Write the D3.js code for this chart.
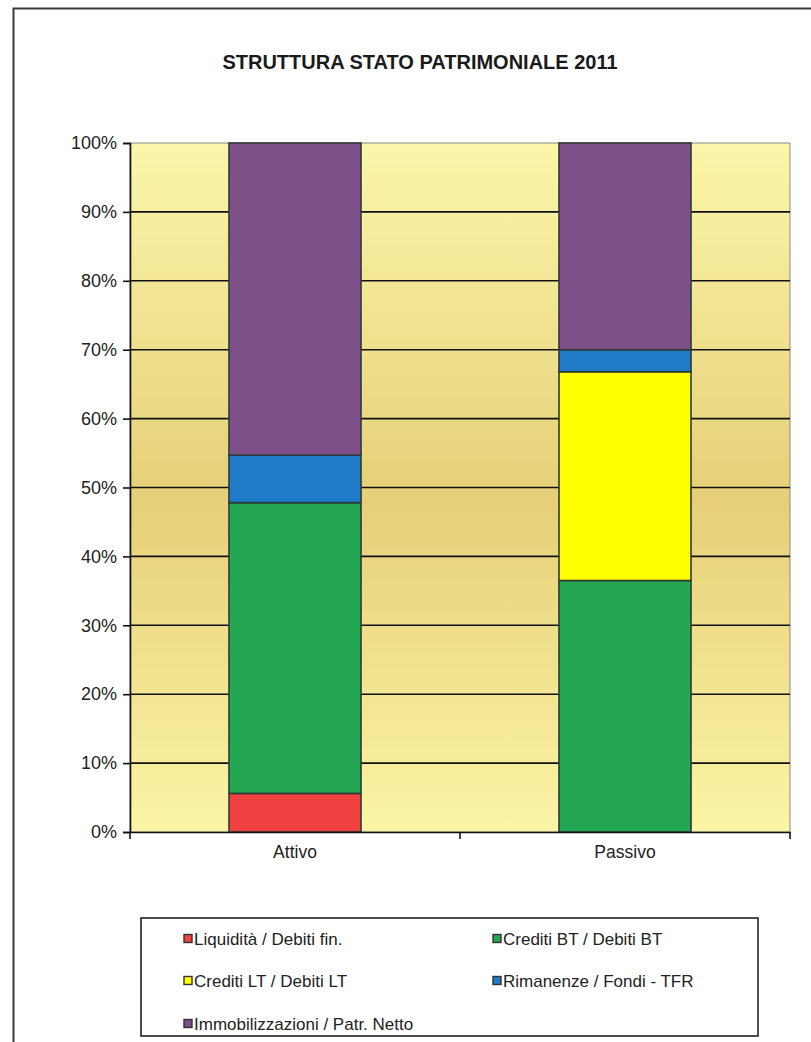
<!DOCTYPE html>
<html>
<head>
<meta charset="utf-8">
<script src="https://cdn.jsdelivr.net/npm/d3@7"></script>
<style>
  html, body { margin: 0; padding: 0; background: #fff; }
  svg { display: block; font-family: "Liberation Sans", Arial, sans-serif; }
</style>
</head>
<body>
<svg id="chart" width="811" height="1042"></svg>
<script>
// Balance sheet structure 2011 (percent of total)
const categories = ["Attivo", "Passivo"];
const seriesNames = [
  "Liquidità / Debiti fin.",
  "Crediti BT / Debiti BT",
  "Crediti LT / Debiti LT",
  "Rimanenze / Fondi - TFR",
  "Immobilizzazioni / Patr. Netto"
];
const attivoValues  = [5.6, 42.2, 0, 6.9, 45.3];
const passivoValues = [0, 36.5, 30.3, 3.2, 30.0];
const yTicks = [0, 10, 20, 30, 40, 50, 60, 70, 80, 90, 100];
const title = "STRUTTURA STATO PATRIMONIALE 2011";

const colors = ["#f0403f", "#24a752", "#ffff00", "#1f7bc8", "#7e5089"];

const rows = categories.map((c, i) => {
  const vals = i === 0 ? attivoValues : passivoValues;
  const r = { category: c };
  seriesNames.forEach((s, k) => r[s] = vals[k]);
  return r;
});

const svg = d3.select("#chart");
const plot = { left: 130, right: 790, top: 143, bottom: 832 };

// outer frame
svg.append("rect")
  .attr("x", 13.5).attr("y", 8.5)
  .attr("width", 830).attr("height", 1060)
  .attr("fill", "#fff").attr("stroke", "#3a3a3a").attr("stroke-width", 2);

// title
svg.append("text")
  .attr("x", 420).attr("y", 69)
  .attr("text-anchor", "middle")
  .attr("font-weight", "bold")
  .attr("font-size", 20)
  .attr("fill", "#1a1a1a")
  .text(title);

const x = d3.scaleBand()
  .domain(categories)
  .range([plot.left, plot.right])
  .paddingInner(0.6)
  .paddingOuter(0.3);

const y = d3.scaleLinear()
  .domain([0, 100])
  .range([plot.bottom, plot.top]);

// plot background gradient
const defs = svg.append("defs");
const grad = defs.append("linearGradient")
  .attr("id", "plotBg").attr("x1", 0).attr("y1", 0).attr("x2", 0).attr("y2", 1);
grad.append("stop").attr("offset", "0%").attr("stop-color", "#fbf6aa");
grad.append("stop").attr("offset", "52%").attr("stop-color", "#e6cf78");
grad.append("stop").attr("offset", "100%").attr("stop-color", "#fbf5a6");

svg.append("rect")
  .attr("x", plot.left).attr("y", plot.top)
  .attr("width", plot.right - plot.left).attr("height", plot.bottom - plot.top)
  .attr("fill", "url(#plotBg)")
  .attr("stroke", "#8a8a8a").attr("stroke-width", 1);

// horizontal gridlines
svg.append("g")
  .selectAll("line")
  .data(yTicks.filter(t => t > 0 && t < 100))
  .join("line")
  .attr("x1", plot.left).attr("x2", plot.right)
  .attr("y1", d => y(d)).attr("y2", d => y(d))
  .attr("stroke", "#111").attr("stroke-width", 1.6);

// stacked bars
const stack = d3.stack().keys(seriesNames);
const layers = stack(rows);

svg.append("g")
  .selectAll("g")
  .data(layers)
  .join("g")
  .attr("fill", (d, i) => colors[i])
  .selectAll("rect")
  .data(d => d.filter(p => p[1] - p[0] > 0))
  .join("rect")
  .attr("x", d => x(d.data.category))
  .attr("width", x.bandwidth())
  .attr("y", d => y(d[1]))
  .attr("height", d => y(d[0]) - y(d[1]))
  .attr("stroke", "#2e3a38").attr("stroke-width", 1.6);

// y axis
const yAxis = svg.append("g")
  .attr("transform", `translate(${plot.left},0)`)
  .call(d3.axisLeft(y).tickValues(yTicks).tickFormat(d => d + "%").tickSize(7).tickPadding(6));
yAxis.select(".domain").attr("stroke", "#111").attr("stroke-width", 1.6);
yAxis.selectAll(".tick line").attr("stroke", "#111").attr("stroke-width", 1.6);
yAxis.selectAll(".tick text")
  .attr("font-size", 18).attr("fill", "#222")
  .attr("font-family", "'Liberation Sans', Arial, sans-serif");

// x axis line with category-boundary ticks
const xAxis = svg.append("g")
  .attr("transform", `translate(0,${plot.bottom})`)
  .call(d3.axisBottom(x).tickSize(0).tickPadding(14));
xAxis.select(".domain").attr("stroke", "#111").attr("stroke-width", 1.6);
xAxis.selectAll(".tick text")
  .attr("font-size", 17.5).attr("fill", "#222")
  .attr("font-family", "'Liberation Sans', Arial, sans-serif");

const boundaries = [plot.left].concat(categories.map(c => x(c) + x.bandwidth() + x.step() * x.paddingInner() / 2));
boundaries[boundaries.length - 1] = plot.right;
svg.append("g")
  .selectAll("line")
  .data(boundaries)
  .join("line")
  .attr("x1", d => d).attr("x2", d => d)
  .attr("y1", plot.bottom).attr("y2", plot.bottom + 7)
  .attr("stroke", "#111").attr("stroke-width", 1.6);

// legend
const legend = svg.append("g");
legend.append("rect")
  .attr("x", 141).attr("y", 918)
  .attr("width", 617).attr("height", 118)
  .attr("fill", "#fff").attr("stroke", "#222").attr("stroke-width", 1.6);

const colX = [184, 493];
const rowY = [939, 981, 1024];
seriesNames.forEach((name, i) => {
  const cx = colX[i % 2], cy = rowY[Math.floor(i / 2)];
  const item = legend.append("g").attr("transform", `translate(${cx},${cy})`);
  item.append("rect")
    .attr("x", 0).attr("y", -4.5).attr("width", 8).attr("height", 8)
    .attr("fill", colors[i]).attr("stroke", "#333").attr("stroke-width", 1.4);
  item.append("text")
    .attr("x", 10).attr("y", 0).attr("dy", "0.36em")
    .attr("font-size", 17).attr("fill", "#222")
    .text(name);
});
</script>
</body>
</html>
